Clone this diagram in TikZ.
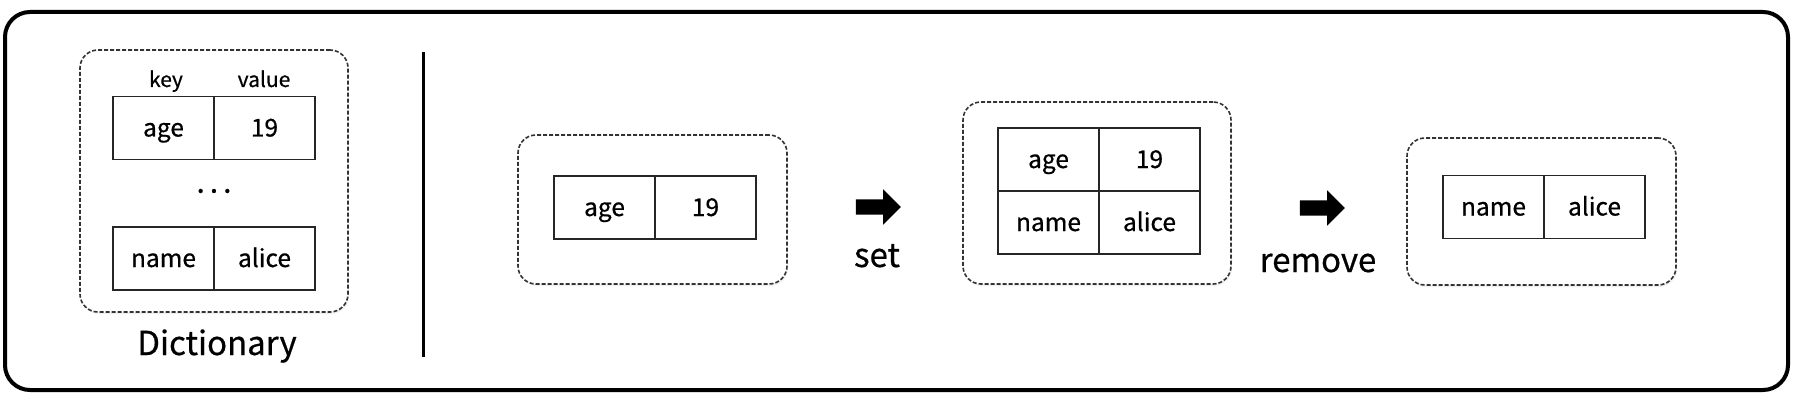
\documentclass[tikz,border=0pt]{standalone}
\usepackage{fontspec}
\setmainfont{Noto Sans CJK SC}[FakeBold=0.6]
\usetikzlibrary{positioning,shapes.arrows,shadows}

\begin{document}
\begin{tikzpicture}[
    x=1pt, y=-1pt,
    every node/.style={align=center},
    panel/.style={rectangle, rounded corners=18pt, draw=black!80, line width=1.6pt, dash pattern=on 4pt off 2pt, fill=white,
        drop shadow={shadow xshift=1pt, shadow yshift=-2pt, opacity=0.12}},
    cell/.style={rectangle, draw=black!85, line width=1.8pt, outer sep=0pt, inner sep=0pt, minimum width=101pt, minimum height=63pt,
        text height=17pt, text depth=0pt, font=\fontsize{24.5}{28}\selectfont},
    head/.style={font=\fontsize{21}{24}\selectfont, anchor=base},
    step label/.style={font=\fontsize{33}{38}\selectfont, anchor=base},
    blockarrow/.style={single arrow, fill=black, draw=none, inner xsep=0pt, inner ysep=7.5pt, minimum height=45pt, single arrow head extend=10pt}
]
    \useasboundingbox (0,0) rectangle (1800,401);

    % Outer frame
    \draw[line width=4pt, rounded corners=25pt] (5,12) rectangle (1788,390);

    % Dictionary on the left
    \node[panel, minimum width=268pt, minimum height=262pt] (dict) at (214,181) {};
    \node[cell] (dictAge) at (163.5,128) {age};
    \node[cell, right=0pt of dictAge] (dictAgeVal) {19};
    \node[cell] (dictName) at (163.5,258.5) {name};
    \node[cell, right=0pt of dictName] (dictNameVal) {alice};
    \node[head] (keyLabel) at (166,87) {key};
    \node[head] (valueLabel) at (264,87) {value};
    \node[font=\fontsize{30}{34}\selectfont] (dots) at (214,191) {.\,.\,.};
    \node[font=\fontsize{33}{38}\selectfont, anchor=base] (dictLabel) at (217,355) {Dictionary};

    % Separator
    \draw[line width=3pt] (423,52) -- (423,357);

    % Before set
    \node[panel, minimum width=269pt, minimum height=149pt] (before) at (652.5,209.5) {};
    \node[cell] (beforeKey) at (604.5,207.5) {age};
    \node[cell, right=0pt of beforeKey] (beforeVal) {19};

    \node[blockarrow] (setArrow) at (874.5,207) {};
    \node[step label] (setLabel) at (877,267) {set};

    % After set
    \node[panel, minimum width=268pt, minimum height=182pt] (after) at (1097,193) {};
    \node[cell] (afterAge) at (1048.5,159.5) {age};
    \node[cell, right=0pt of afterAge] (afterAgeVal) {19};
    \node[cell, below=0pt of afterAge] (afterName) {name};
    \node[cell, right=0pt of afterName] (afterNameVal) {alice};

    \node[blockarrow] (removeArrow) at (1318.5,208) {};
    \node[step label] (removeLabel) at (1318,272) {remove};

    % After remove
    \node[panel, minimum width=269pt, minimum height=147pt] (final) at (1541.5,211.5) {};
    \node[cell] (finalName) at (1493.5,207) {name};
    \node[cell, right=0pt of finalName] (finalNameVal) {alice};
\end{tikzpicture}
\end{document}
